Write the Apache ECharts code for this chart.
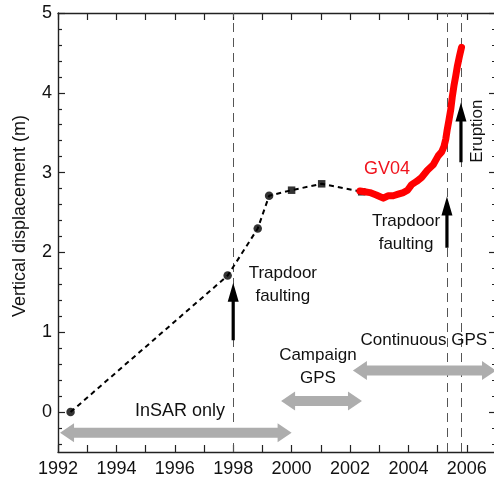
<!DOCTYPE html>
<html>
<head>
<meta charset="utf-8">
<script src="https://cdn.jsdelivr.net/npm/echarts@6/dist/echarts.min.js"></script>
<style>
  html, body { margin: 0; padding: 0; background: #fff; }
  #chart { width: 494px; height: 481px; }
</style>
</head>
<body>
<div id="chart"></div>
<script>
// InSAR-derived uplift (year, vertical displacement in m)
const insarYears = [1992.43, 1997.81, 1998.84, 1999.23];
const insarValues = [0, 1.71, 2.30, 2.71];

// Campaign GPS surveys
const campaignYears = [2000.0, 2001.03, 2002.4];
const campaignValues = [2.78, 2.86, 2.76];

// Continuous GPS station GV04
const gv04Years = [2002.34, 2002.5, 2002.68, 2002.9, 2003.14, 2003.3, 2003.48, 2003.65,
  2003.83, 2003.97, 2004.11, 2004.28, 2004.45, 2004.65, 2004.85, 2005.02, 2005.14,
  2005.22, 2005.28, 2005.33, 2005.39, 2005.45, 2005.5, 2005.56, 2005.62, 2005.68,
  2005.75, 2005.82];
const gv04Values = [2.77, 2.76, 2.75, 2.72, 2.68, 2.71, 2.71, 2.73,
  2.75, 2.78, 2.85, 2.89, 2.94, 3.03, 3.10, 3.21, 3.26,
  3.33, 3.42, 3.54, 3.66, 3.79, 3.94, 4.09, 4.21, 4.34,
  4.46, 4.57];

// Events: two trapdoor faulting episodes and the eruption
const eventYears = [1998.0, 2005.32, 2005.8];

// Observation periods: start year, end year
const periodStart = [1992.07, 1999.64, 2002.1];
const periodEnd = [2000.0, 2002.41, 2007.0];

// Axis ticks
const xTickYears = [1992, 1994, 1996, 1998, 2000, 2002, 2004, 2006];
const yMajorTicks = [0, 1, 2, 3, 4, 5];
const yMinorTicks = [-0.4, -0.2, 0.2, 0.4, 0.6, 0.8, 1.2, 1.4, 1.6, 1.8, 2.2, 2.4, 2.6, 2.8,
  3.2, 3.4, 3.6, 3.8, 4.2, 4.4, 4.6, 4.8];

// ---- layout of arrows and annotation text (data coordinates) ----
const periodLevels = [-0.26, 0.14, 0.52];
const eventArrowFrom = [0.9, 2.06, 3.13];
const eventArrowTo = [1.62, 2.70, 3.88];

const FONT = '"Liberation Sans", Arial, Helvetica, sans-serif';
const annotations = [
  { text: 'Trapdoor\nfaulting', x: 1999.7, y: 1.6, color: '#111', size: 17 },
  { text: 'Trapdoor\nfaulting', x: 2003.92, y: 2.25, color: '#111', size: 17 },
  { text: 'GV04', x: 2003.27, y: 3.04, color: '#f0141e', size: 18 },
  { text: 'Eruption', x: 2006.35, y: 3.52, color: '#111', size: 17, rotate: Math.PI / 2 },
  { text: 'InSAR only', x: 1996.18, y: 0.01, color: '#111', size: 18 },
  { text: 'Campaign\nGPS', x: 2000.9, y: 0.565, color: '#111', size: 17 },
  { text: 'Continuous GPS', x: 2004.53, y: 0.905, color: '#111', size: 17 }
];

const AXIS_COLOR = '#222';

function pairs(xs, ys) { return xs.map((x, i) => [x, ys[i]]); }

const earlyYears = insarYears.concat(campaignYears);
const earlyValues = insarValues.concat(campaignValues);

// double-headed horizontal arrow
function renderPeriodArrow(params, api) {
  const a = api.coord([api.value(0), api.value(2)]);
  const b = api.coord([api.value(1), api.value(2)]);
  const y = a[1], x1 = a[0], x2 = b[0];
  const sh = 5, hw = 9.5, hl = 14;
  return {
    type: 'polygon',
    shape: { points: [
      [x1, y], [x1 + hl, y - hw], [x1 + hl, y - sh], [x2 - hl, y - sh], [x2 - hl, y - hw],
      [x2, y], [x2 - hl, y + hw], [x2 - hl, y + sh], [x1 + hl, y + sh], [x1 + hl, y + hw]
    ] },
    style: { fill: '#adadad' }
  };
}

// single upward arrow
function renderEventArrow(params, api) {
  const a = api.coord([api.value(0), api.value(1)]);
  const b = api.coord([api.value(0), api.value(2)]);
  const x = a[0], y1 = a[1], y2 = b[1];
  const sh = 1.6, hw = 5.5, hl = 19;
  return {
    type: 'polygon',
    shape: { points: [
      [x - sh, y1], [x - sh, y2 + hl], [x - hw, y2 + hl], [x, y2],
      [x + hw, y2 + hl], [x + sh, y2 + hl], [x + sh, y1]
    ] },
    style: { fill: '#000' }
  };
}

function renderAnnotation(params, api) {
  const a = annotations[params.dataIndex];
  const p = api.coord([a.x, a.y]);
  return {
    type: 'text',
    x: p[0], y: p[1],
    rotation: a.rotate || 0,
    style: {
      text: a.text, fill: a.color, fontSize: a.size, fontFamily: FONT,
      align: 'center', verticalAlign: 'middle', lineHeight: 23
    }
  };
}

function xAxisDef(pos, showLabels) {
  return {
    type: 'value', position: pos, min: 1992, max: 2007, interval: 1,
    axisLine: { show: true, onZero: false, lineStyle: { color: AXIS_COLOR, width: 1.4 } },
    axisTick: { show: true, inside: true, length: 7, lineStyle: { color: AXIS_COLOR, width: 1.2 } },
    axisLabel: {
      show: showLabels, margin: 8, color: '#111', fontSize: 18, fontFamily: FONT,
      formatter: v => (xTickYears.indexOf(v) >= 0 ? String(v) : '')
    },
    splitLine: { show: false }
  };
}

function yAxisDef(pos, ticks, len, showLine, showLabels) {
  return {
    type: 'value', position: pos, min: -0.5, max: 5,
    axisLine: { show: showLine, onZero: false, lineStyle: { color: AXIS_COLOR, width: 1.4 } },
    axisTick: { show: true, inside: true, length: len, customValues: ticks,
      lineStyle: { color: AXIS_COLOR, width: 1.2 } },
    axisLabel: { show: showLabels, customValues: yMajorTicks, margin: 6, color: '#111',
      fontSize: 18, fontFamily: FONT },
    splitLine: { show: false }
  };
}

const chart = echarts.init(document.getElementById('chart'), null, { renderer: 'canvas' });

chart.setOption({
  animation: false,
  backgroundColor: '#fff',
  grid: { left: 58, right: -2, top: 13, bottom: 29, containLabel: false, outerBoundsMode: 'none' },
  xAxis: [xAxisDef('bottom', true), xAxisDef('top', false)],
  yAxis: [
    yAxisDef('left', yMajorTicks, 7, true, true),
    yAxisDef('left', yMinorTicks, 4, false, false),
    yAxisDef('right', yMajorTicks, 7, true, false),
    yAxisDef('right', yMinorTicks, 4, false, false)
  ],
  graphic: [{
    type: 'text', x: 20, y: 216, rotation: Math.PI / 2,
    style: { text: 'Vertical displacement (m)', fill: '#111', fontSize: 18, fontFamily: FONT,
      align: 'center', verticalAlign: 'middle' }
  }],
  series: [
    {
      name: 'periods', type: 'custom', xAxisIndex: 0, yAxisIndex: 0,
      renderItem: renderPeriodArrow, encode: { x: [0, 1], y: 2 },
      data: periodStart.map((s, i) => [s, periodEnd[i], periodLevels[i]]),
      silent: true, z: 3
    },
    {
      name: 'early', type: 'line', xAxisIndex: 0, yAxisIndex: 0,
      data: pairs(earlyYears, earlyValues),
      showSymbol: false, symbol: 'none',
      lineStyle: { color: '#000', width: 2, type: [5, 4] },
      z: 4,
      markLine: {
        silent: true, symbol: 'none', label: { show: false },
        lineStyle: { color: '#555', width: 1, type: [9, 6] },
        data: eventYears.map(x => ({ xAxis: x })),
        z: 2
      }
    },
    {
      name: 'InSAR', type: 'scatter', xAxisIndex: 0, yAxisIndex: 0,
      data: pairs(insarYears, insarValues),
      symbol: 'circle', symbolSize: 8.5, itemStyle: { color: '#000' }, z: 5
    },
    {
      name: 'Campaign GPS', type: 'scatter', xAxisIndex: 0, yAxisIndex: 0,
      data: pairs(campaignYears, campaignValues),
      symbol: 'rect', symbolSize: 7.5, itemStyle: { color: '#000' }, z: 5
    },
    {
      name: 'GV04', type: 'line', xAxisIndex: 0, yAxisIndex: 0,
      data: pairs(gv04Years, gv04Values),
      showSymbol: false, symbol: 'none',
      lineStyle: { color: '#f00', width: 7, cap: 'round', join: 'round' },
      z: 6
    },
    {
      name: 'events', type: 'custom', xAxisIndex: 0, yAxisIndex: 0,
      renderItem: renderEventArrow, encode: { x: 0, y: [1, 2] },
      data: eventYears.map((x, i) => [x, eventArrowFrom[i], eventArrowTo[i]]),
      silent: true, z: 7
    },
    {
      name: 'labels', type: 'custom', xAxisIndex: 0, yAxisIndex: 0,
      renderItem: renderAnnotation, encode: { x: 0, y: 1 },
      data: annotations.map(a => [a.x, a.y]),
      silent: true, clip: false, z: 8
    }
  ]
});
</script>
</body>
</html>
